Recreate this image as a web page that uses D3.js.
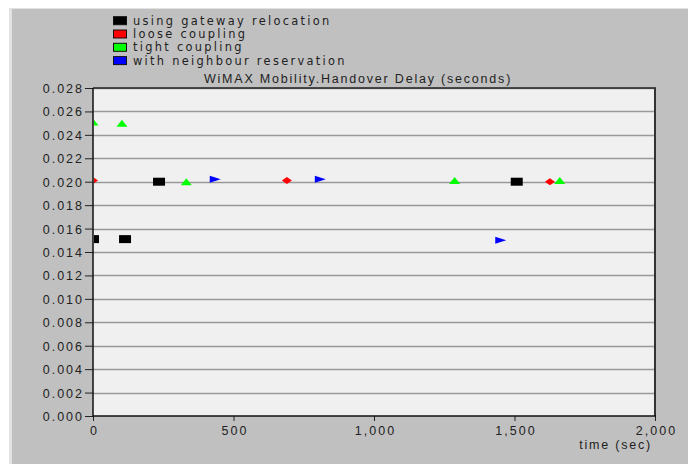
<!DOCTYPE html>
<html><head><meta charset="utf-8">
<script src="https://cdn.jsdelivr.net/npm/d3@7"></script>
<style>body{margin:0;background:#fff}svg{display:block;font-family:"Liberation Sans",Arial,sans-serif}</style>
</head><body><svg id="c" width="688" height="464"></svg>
<script>
const seriesNames = ["using gateway relocation","loose coupling","tight coupling","with neighbour reservation"];
const seriesColors = ["#000000","#ff0000","#00ff00","#0000ff"];
const gatewayX = [0, 114, 235, 1508];
const gatewayY = [0.0151, 0.0151, 0.0200, 0.0200];
const looseX = [0, 690, 1626];
const looseY = [0.0201, 0.0201, 0.0200];
const tightX = [0, 103, 332, 1287, 1661];
const tightY = [0.0251, 0.0250, 0.0200, 0.0201, 0.0201];
const neighbourX = [435, 809, 1451];
const neighbourY = [0.0202, 0.0202, 0.0150];
const xTicks = [0, 500, 1000, 1500, 2000];
const yTicks = d3.range(0, 0.0281, 0.002);

const svg = d3.select("#c");
svg.append("rect").attr("x",9).attr("y",8).attr("width",679).attr("height",456).attr("fill","#e2e2e2");
svg.append("rect").attr("x",12).attr("y",9).attr("width",676).attr("height",455).attr("fill","#c0c0c0");

const L=93, R=655, T=88, B=416;
const x = d3.scaleLinear().domain([0,2000]).range([L,R]);
const y = d3.scaleLinear().domain([0,0.028]).range([B,T]);

svg.append("rect").attr("x",L).attr("y",T).attr("width",R-L).attr("height",B-T).attr("fill","#f0f0f0");
svg.append("g").selectAll("line").data(yTicks.slice(1)).join("line")
  .attr("x1",L).attr("x2",R).attr("y1",d=>Math.round(y(d))+0.5).attr("y2",d=>Math.round(y(d))+0.5)
  .attr("stroke","#999").attr("stroke-width",1.5);

// axes
const ya = svg.append("g").attr("transform",`translate(${L},0)`)
  .call(d3.axisLeft(y).tickValues(yTicks).tickFormat(d3.format(".3f")).tickSize(8).tickSizeOuter(0));
const xa = svg.append("g").attr("transform",`translate(0,${B})`)
  .call(d3.axisBottom(x).tickValues(xTicks).tickFormat(d3.format(",")).tickSize(5).tickSizeOuter(0));
[ya,xa].forEach(g=>{g.select(".domain").remove();g.selectAll("text").attr("font-size",12.5).attr("letter-spacing","2px").attr("fill","#222").attr("font-family","Liberation Sans, Arial");g.selectAll("line").attr("stroke","#222");});
ya.selectAll("text").attr("x",-9).attr("dy","0.36em");
xa.selectAll("text").attr("dy","0.85em").attr("dx","1px");

// frame
svg.append("line").attr("x1",L).attr("x2",R+1).attr("y1",T).attr("y2",T).attr("stroke","#222").attr("stroke-width",1.5);
svg.append("line").attr("x1",R).attr("x2",R).attr("y1",T).attr("y2",B).attr("stroke","#333").attr("stroke-width",2);
svg.append("line").attr("x1",L).attr("x2",L).attr("y1",T).attr("y2",B+1).attr("stroke","#111").attr("stroke-width",1.5);
svg.append("line").attr("x1",L).attr("x2",R+1).attr("y1",B).attr("y2",B).attr("stroke","#111").attr("stroke-width",1.5);

svg.append("clipPath").attr("id","clip").append("rect").attr("x",L+1).attr("y",T).attr("width",R-L-1).attr("height",B-T);
const pg = svg.append("g").attr("clip-path","url(#clip)");

const shapes = [
  "M-6,-4L6,-4L6,4L-6,4Z",
  "M-5,0L0,-3.5L5,0L0,3.5Z",
  "M-5.5,3.5L0,-3.5L5.5,3.5Z",
  "M-5.5,-3.5L5.5,0L-5.5,3.5Z"
];
const series = [
  {xs:gatewayX, ys:gatewayY},
  {xs:looseX, ys:looseY},
  {xs:tightX, ys:tightY},
  {xs:neighbourX, ys:neighbourY}
];
series.forEach((s,i)=>{
  pg.append("g").selectAll("path").data(s.xs.map((d,j)=>[d,s.ys[j]])).join("path")
    .attr("d",shapes[i]).attr("transform",d=>`translate(${x(d[0])},${y(d[1])})`)
    .attr("fill",seriesColors[i]);
});

// title
svg.append("text").attr("x",358).attr("y",83).attr("text-anchor","middle").attr("font-size",12.5).attr("letter-spacing","1.8px").attr("fill","#222")
  .text("WiMAX Mobility.Handover Delay (seconds)");
svg.append("text").attr("x",652).attr("y",449).attr("text-anchor","end").attr("font-size",12.5).attr("letter-spacing","1.8px").attr("fill","#222").text("time (sec)");

// legend
const lg = svg.append("g").selectAll("g").data(seriesNames).join("g")
  .attr("transform",(d,i)=>`translate(113,${20.7+i*13.3})`);
lg.append("rect").attr("x",0.5).attr("y",-4).attr("width",13).attr("height",8).attr("fill",(d,i)=>seriesColors[i]).attr("stroke","#111");
lg.append("text").attr("x",20).attr("y",0).attr("dy","0.36em").attr("font-family","DejaVu Sans").attr("font-size",11.4).attr("letter-spacing","2.3px").attr("fill","#222").text(d=>d);
</script></body></html>
